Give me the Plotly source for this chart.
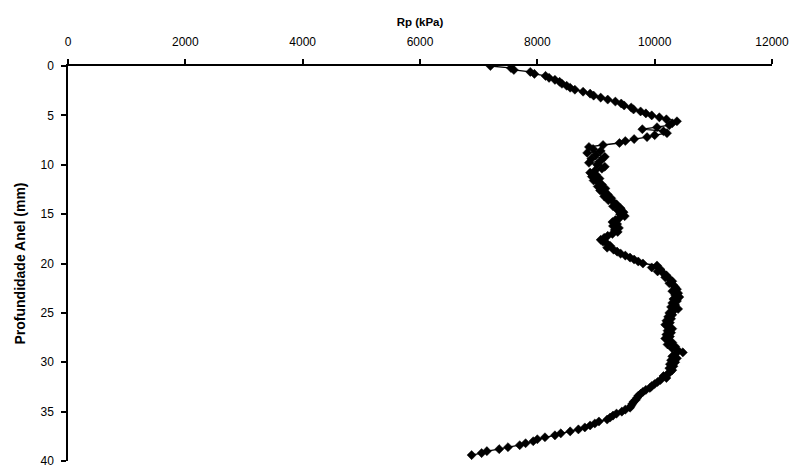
import plotly.graph_objects as go

depth_mm = [round(i * 0.2, 1) for i in range(198)]

rp_kpa = [
    7200, 7550, 7600, 7880, 7950, 8140, 8200, 8300, 8380, 8420,
    8500, 8560, 8640, 8780, 8900, 8960, 9080, 9200, 9330, 9430,
    9480, 9600, 9640, 9760, 9850, 9950, 10080, 10200, 10380, 10300,
    10250, 10040, 9790, 10150, 10210, 10000, 9870, 9650, 9500, 9400,
    9120, 8880, 8950, 9080, 8850, 9000, 9150, 8920, 9080, 8880,
    9020, 9150, 9100, 8980, 8900, 9000, 8930, 9060, 8960, 9040,
    9100, 9030, 9160, 9070, 9130, 9200, 9140, 9260, 9210, 9300,
    9350, 9290, 9420, 9370, 9470, 9410, 9490, 9400, 9330, 9280,
    9360, 9290, 9390, 9320, 9370, 9280, 9200, 9140, 9080, 9120,
    9190, 9240, 9190, 9300, 9360, 9420, 9500, 9580, 9650, 9720,
    9800, 10040, 9950, 10100, 10050, 10150, 10200, 10180, 10260, 10300,
    10250, 10320, 10350, 10380, 10300, 10400, 10350, 10420, 10320, 10380,
    10300, 10350, 10280, 10400, 10320, 10250, 10300, 10230, 10280, 10200,
    10260, 10180, 10240, 10300, 10220, 10280, 10200, 10260, 10180, 10250,
    10300, 10220, 10350, 10300, 10400, 10480, 10350, 10300, 10380, 10280,
    10350, 10260, 10320, 10250, 10300, 10260, 10220, 10150, 10200, 10100,
    10050, 10000, 9950, 9920, 9850, 9800, 9760, 9720, 9700, 9680,
    9640, 9620, 9600, 9580, 9500, 9440, 9350, 9290, 9240, 9190,
    9050, 8980, 8900, 8810, 8700, 8560, 8400, 8300, 8130, 8000,
    7930, 7800, 7700, 7500, 7350, 7140, 7050, 6880,
]

x_ticks = [0, 2000, 4000, 6000, 8000, 10000, 12000]
y_ticks = [0, 5, 10, 15, 20, 25, 30, 35, 40]

FONT = "Liberation Sans, Arial, sans-serif"

fig = go.Figure()
fig.add_trace(go.Scatter(
    x=rp_kpa, y=depth_mm, mode="lines+markers",
    line=dict(color="black", width=1.3),
    marker=dict(symbol="diamond", size=7, color="black",
                line=dict(color="black", width=0.5)),
    showlegend=False,
))

fig.update_layout(
    width=798, height=471,
    margin=dict(l=68, r=26, t=66, b=10),
    paper_bgcolor="white", plot_bgcolor="white",
    font=dict(family=FONT, size=12, color="black"),
    xaxis=dict(
        side="top", range=[0, 12000], tickvals=x_ticks,
        ticktext=[str(v) for v in x_ticks],
        ticks="outside", ticklen=5, tickwidth=1.5, tickcolor="black",
        showline=True, linecolor="black", linewidth=1.5,
        showgrid=False, zeroline=False, ticklabelstandoff=8,
        automargin=False,
        tickfont=dict(size=12, family=FONT),
        title=dict(text="<b>Rp (kPa)</b>", font=dict(size=11.5, family=FONT),
                   standoff=6),
    ),
    yaxis=dict(
        range=[40, 0], tickvals=y_ticks,
        ticks="outside", ticklen=5, tickwidth=1.5, tickcolor="black",
        showline=True, linecolor="black", linewidth=1.5,
        showgrid=False, zeroline=False, ticklabelstandoff=5,
        automargin=False,
        tickfont=dict(size=12, family=FONT),
        title=dict(text="<b>Profundidade Anel (mm)</b>",
                   font=dict(size=14, family=FONT), standoff=12),
    ),
)

fig.write_html("out.html")
